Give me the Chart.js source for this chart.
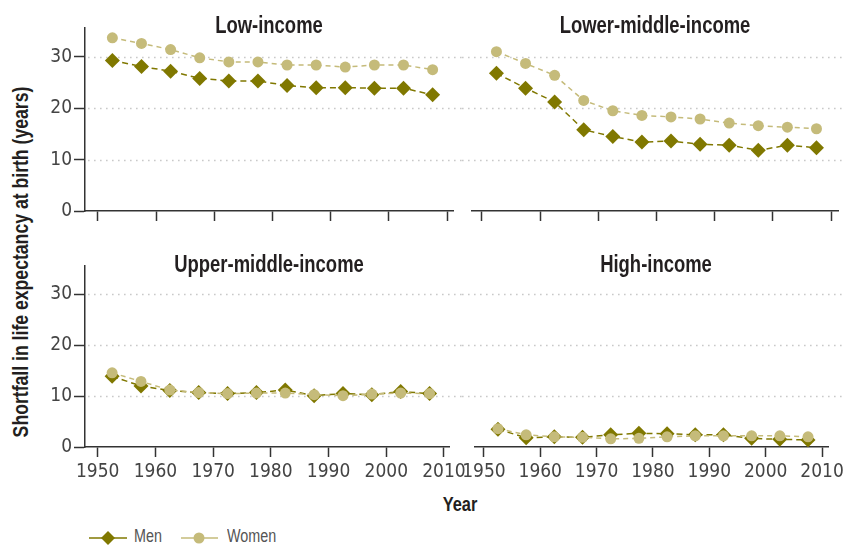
<!DOCTYPE html>
<html><head><meta charset="utf-8">
<script src="https://cdn.jsdelivr.net/npm/chart.js@4"></script>
<style>
html,body{margin:0;padding:0;background:#fff;}
body{width:848px;height:546px;position:relative;overflow:hidden;font-family:"Liberation Sans",Arial,sans-serif;}
canvas.c{position:absolute;}
.t{position:absolute;font-weight:bold;font-size:23.5px;line-height:22px;color:#231f20;white-space:nowrap;transform:translateX(-50%) scaleX(0.785);}
.yl{position:absolute;font-weight:bold;font-size:21.5px;line-height:24px;color:#231f20;white-space:nowrap;width:500px;text-align:center;left:-229px;top:250px;transform:rotate(-90deg) scaleX(0.82);transform-origin:250px 12px;}
.xl{position:absolute;font-weight:bold;font-size:20px;line-height:20px;color:#231f20;left:460px;top:494px;transform:translateX(-50%) scaleX(0.82);}
.lg{position:absolute;font-size:17.5px;line-height:17px;color:#555;top:528px;transform:scaleX(0.82);transform-origin:0 0;}
svg{position:absolute;}
</style>
</head><body>
<canvas class="c" id="c1" width="430" height="235" style="left:40px;top:0px"></canvas>
<canvas class="c" id="c2" width="390" height="235" style="left:458px;top:0px"></canvas>
<canvas class="c" id="c3" width="430" height="250" style="left:40px;top:240px"></canvas>
<canvas class="c" id="c4" width="390" height="250" style="left:458px;top:240px"></canvas>
<div class="t" style="left:269px;top:14px">Low-income</div>
<div class="t" style="left:655px;top:14px">Lower-middle-income</div>
<div class="t" style="left:269px;top:253px">Upper-middle-income</div>
<div class="t" style="left:656px;top:253px">High-income</div>
<div class="yl">Shortfall in life expectancy at birth (years)</div>
<div class="xl">Year</div>
<svg style="left:86px;top:528px" width="44" height="20"><line x1="3" y1="10" x2="41" y2="10" stroke="#807800" stroke-width="1.5"/><polygon points="22,3 29,10 22,17 15,10" fill="#807800"/></svg>
<div class="lg" style="left:134px">Men</div>
<svg style="left:178px;top:528px" width="44" height="20"><line x1="3" y1="10" x2="40" y2="10" stroke="#c5bb7a" stroke-width="1.5"/><circle cx="21" cy="10" r="5.5" fill="#c5bb7a"/></svg>
<div class="lg" style="left:227px">Women</div>
<script>
const years = [1952.5,1957.5,1962.5,1967.5,1972.5,1977.5,1982.5,1987.5,1992.5,1997.5,2002.5,2007.5];
const xTicks = [1950,1960,1970,1980,1990,2000,2010];
const yTicks = [0,10,20,30];

const lowMen     = [29.3,28.1,27.2,25.8,25.3,25.3,24.4,24.0,24.0,23.9,23.9,22.6];
const lowWomen   = [33.7,32.6,31.4,29.8,29.0,29.0,28.4,28.4,28.0,28.4,28.4,27.5];
const lmMen      = [26.8,23.9,21.2,15.8,14.5,13.4,13.6,13.0,12.8,11.8,12.8,12.3];
const lmWomen    = [31.0,28.7,26.4,21.5,19.5,18.6,18.3,17.9,17.1,16.6,16.3,16.0];
const umMen      = [13.9,12.0,11.1,10.7,10.5,10.7,11.2,10.1,10.5,10.3,10.9,10.5];
const umWomen    = [14.6,12.9,11.2,10.7,10.5,10.6,10.6,10.3,10.1,10.4,10.6,10.5];
const hiMen      = [3.5,1.8,2.0,1.9,2.4,2.7,2.6,2.4,2.4,1.7,1.5,1.4];
const hiWomen    = [3.6,2.4,2.0,1.9,1.6,1.7,2.0,2.2,2.2,2.2,2.2,2.0];

const MEN_C = '#807800';
const WOMEN_C = '#c5bb7a';
const FONT = '"DejaVu Sans Condensed","Liberation Sans",sans-serif';

const dotGrid = {
  id: 'dotgrid',
  beforeDatasetsDraw(chart, args, opts) {
    const {ctx, chartArea, scales} = chart;
    const y = scales.y;
    const x0 = opts.x0 != null ? opts.x0 : chartArea.left + 3;
    const x1 = opts.x1;
    ctx.save();
    ctx.strokeStyle = '#c9c9c9';
    ctx.lineWidth = 1.6;
    ctx.setLineDash([1.6, 4.4]);
    yTicks.forEach(v => {
      if (v === 0) return;
      const py = Math.round(y.getPixelForValue(v)) + 0.5;
      ctx.beginPath(); ctx.moveTo(x0, py); ctx.lineTo(x1, py); ctx.stroke();
    });
    ctx.restore();
  }
};

function makeChart(id, men, women, cfg) {
  const pts = arr => years.map((x, i) => ({x: x, y: arr[i]}));
  new Chart(document.getElementById(id), {
    type: 'line',
    data: {datasets: [
      {label: 'Women', data: pts(women), borderColor: WOMEN_C, backgroundColor: WOMEN_C,
       borderWidth: 1.5, borderDash: [5, 4], pointStyle: 'circle', pointRadius: 5.5,
       pointBorderWidth: 0, order: 0},
      {label: 'Men', data: pts(men), borderColor: MEN_C, backgroundColor: MEN_C,
       borderWidth: 1.5, borderDash: [6, 4], pointStyle: 'rectRot', pointRadius: 7.5,
       pointBorderWidth: 0, order: 1}
    ]},
    options: {
      responsive: false, animation: false, events: [],
      layout: {padding: cfg.padding},
      plugins: {legend: {display: false}, tooltip: {enabled: false}, title: {display: false},
        dotgrid: {x0: cfg.gx0, x1: cfg.gx1}},
      scales: {
        x: {
          type: 'linear', min: cfg.xmin, max: cfg.xmax,
          afterBuildTicks: s => { s.ticks = xTicks.map(v => ({value: v})); },
          afterFit: s => { s.height = cfg.bottom ? 43 : 24; },
          grid: {drawOnChartArea: false, drawTicks: true, tickLength: 10, tickColor: '#333', tickWidth: 1.5},
          border: {display: true, color: '#333', width: 1.5},
          ticks: {display: cfg.bottom, padding: 4, color: '#444', autoSkip: false, maxRotation: 0,
                  font: {family: FONT, size: 19}, callback: v => String(v)}
        },
        y: {
          type: 'linear', min: 0, max: 35.6, display: cfg.left,
          afterBuildTicks: s => { s.ticks = yTicks.map(v => ({value: v})); },
          afterFit: s => { s.width = cfg.left ? 45 : 0; },
          grid: {drawOnChartArea: false, drawTicks: true, tickLength: 11, tickColor: '#333', tickWidth: 1.5},
          border: {display: true, color: '#333', width: 1.5},
          ticks: {padding: 2, color: '#444', font: {family: FONT, size: 19}, callback: v => String(v)}
        }
      }
    },
    plugins: [dotGrid]
  });
}

makeChart('c1', lowMen, lowWomen, {left: true, bottom: false, xmin: 1947.8, xmax: 2011,
  padding: {left: 0, right: 17, top: 28, bottom: 0}, gx0: null, gx1: 422});
makeChart('c2', lmMen, lmWomen, {left: false, bottom: false, xmin: 1948.3, xmax: 2011.2,
  padding: {left: 14, right: 10, top: 28, bottom: 0}, gx0: 4, gx1: 387});
makeChart('c3', umMen, umWomen, {left: true, bottom: true, xmin: 1947.8, xmax: 2011,
  padding: {left: 0, right: 17, top: 26, bottom: 0}, gx0: null, gx1: 422});
makeChart('c4', hiMen, hiWomen, {left: false, bottom: true, xmin: 1948.3, xmax: 2011.2,
  padding: {left: 14, right: 10, top: 26, bottom: 0}, gx0: 4, gx1: 387});
</script>
</body></html>
